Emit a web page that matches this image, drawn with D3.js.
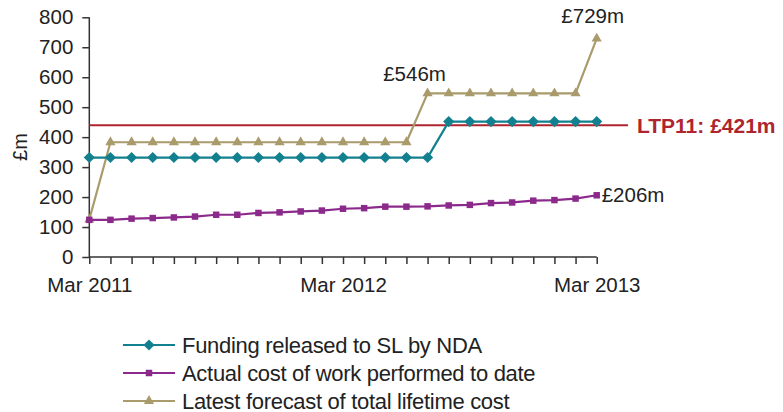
<!DOCTYPE html>
<html><head><meta charset="utf-8">
<script src="https://cdn.jsdelivr.net/npm/d3@7"></script>
<style>body{margin:0;background:#fff}svg{display:block;font-family:"Liberation Sans",Arial,sans-serif}</style>
</head><body><svg id="c" width="783" height="412"></svg>
<script>
const months = ["Mar 2011","Apr 2011","May 2011","Jun 2011","Jul 2011","Aug 2011","Sep 2011","Oct 2011","Nov 2011","Dec 2011","Jan 2012","Feb 2012","Mar 2012","Apr 2012","May 2012","Jun 2012","Jul 2012","Aug 2012","Sep 2012","Oct 2012","Nov 2012","Dec 2012","Jan 2013","Feb 2013","Mar 2013"];
const xTickLabels = ["Mar 2011","Mar 2012","Mar 2013"];
const yTicks = [0,100,200,300,400,500,600,700,800];
const funding = [332,332,332,332,332,332,332,332,332,332,332,332,332,332,332,332,332,452,452,452,452,452,452,452,452];
const actual = [124,124,128,130,132,135,141,141,147,149,152,155,161,163,168,168,169,172,174,180,182,188,190,195,206];
const forecast = [125,383,383,383,383,383,383,383,383,383,383,383,383,383,383,383,546,546,546,546,546,546,546,546,729];
const ltpValue = 440;
const seriesNames = ["Funding released to SL by NDA","Actual cost of work performed to date","Latest forecast of total lifetime cost"];
const annotations = [{label:"£729m", idx:24, s:"forecast"},{label:"£546m", idx:16, s:"forecast"},{label:"£206m", idx:24, s:"actual"}];

const svg = d3.select("#c");
const x = d3.scalePoint().domain(months).range([89.3, 596.7]);
const y = d3.scaleLinear().domain([0,800]).range([257, 17.3]);
const textCol = "#222";
const cols = {funding:"#13808F", actual:"#8C2A8C", forecast:"#A99B6B", ltp:"#AE2530"};

// axes
const yAxis = svg.append("g").attr("transform","translate(89.3,0)")
  .call(d3.axisLeft(y).tickValues(yTicks).tickSize(7).tickPadding(9));
const xAxis = svg.append("g").attr("transform","translate(0,257)")
  .call(d3.axisBottom(x).tickSize(7).tickPadding(13).tickFormat(d => xTickLabels.includes(d) ? d : ""));
[yAxis,xAxis].forEach(a=>{
  a.select(".domain").attr("stroke","#333").attr("stroke-width",1.5);
  a.selectAll(".tick line").attr("stroke","#333").attr("stroke-width",1.5);
  a.selectAll("text").attr("fill",textCol).attr("font-size",20.5).style("font-family","Liberation Sans, Arial, sans-serif");
});
yAxis.select(".domain").attr("d","M0,17.3V257");
xAxis.select(".domain").attr("d","M89.3,0H596.7");

svg.append("text").attr("transform","translate(27,147) rotate(-90)")
  .attr("text-anchor","middle").attr("fill",textCol).attr("font-size",20).text("£m");

// LTP line
svg.append("line").attr("x1",89.3).attr("x2",628).attr("y1",y(ltpValue)).attr("y2",y(ltpValue))
  .attr("stroke",cols.ltp).attr("stroke-width",2);
svg.append("text").attr("x",637).attr("y",y(ltpValue)+8).attr("fill",cols.ltp)
  .attr("font-size",21).attr("font-weight","bold").text("LTP11: £421m");

const line = d3.line().x((d,i)=>x(months[i])).y(d=>y(d));
const symbols = {funding:d3.symbolSquare, actual:d3.symbolSquare, forecast:d3.symbolTriangle};
const sizes = {funding:62, actual:42, forecast:45};
const rot = {funding:45, actual:0, forecast:0};
const data = {funding, actual, forecast};
["forecast","funding","actual"].forEach(k=>{
  svg.append("path").datum(data[k]).attr("d",line).attr("fill","none")
    .attr("stroke",cols[k]).attr("stroke-width",2.2);
  svg.append("g").selectAll("path").data(data[k]).join("path")
    .attr("transform",(d,i)=>`translate(${x(months[i])},${y(d)}) rotate(${rot[k]})`)
    .attr("d",d3.symbol().type(symbols[k]).size(sizes[k])).attr("fill",cols[k]);
});

// annotations
const a0 = annotations[0], a1 = annotations[1], a2 = annotations[2];
svg.append("text").attr("x",x(months[a0.idx])-4).attr("y",y(data[a0.s][a0.idx])-16).attr("text-anchor","middle")
  .attr("fill",textCol).attr("font-size",20.5).text(a0.label);
svg.append("text").attr("x",x(months[a1.idx])-13).attr("y",y(data[a1.s][a1.idx])-12).attr("text-anchor","middle")
  .attr("fill",textCol).attr("font-size",20.5).text(a1.label);
svg.append("text").attr("x",x(months[a2.idx])+5).attr("y",y(data[a2.s][a2.idx])+7).attr("text-anchor","start")
  .attr("fill",textCol).attr("font-size",20.5).text(a2.label);

// legend
const keys = ["funding","actual","forecast"];
const lg = svg.append("g");
keys.forEach((k,i)=>{
  const yy = 345 + i*28;
  lg.append("line").attr("x1",123).attr("x2",175).attr("y1",yy).attr("y2",yy).attr("stroke",cols[k]).attr("stroke-width",2.2);
  lg.append("path").attr("transform",`translate(149,${yy}) rotate(${rot[k]})`).attr("d",d3.symbol().type(symbols[k]).size(sizes[k])).attr("fill",cols[k]);
  lg.append("text").attr("x",182).attr("y",yy+7.5).attr("fill",textCol).attr("font-size",22)
    .attr("letter-spacing",-0.3).text(seriesNames[i]);
});
</script></body></html>
